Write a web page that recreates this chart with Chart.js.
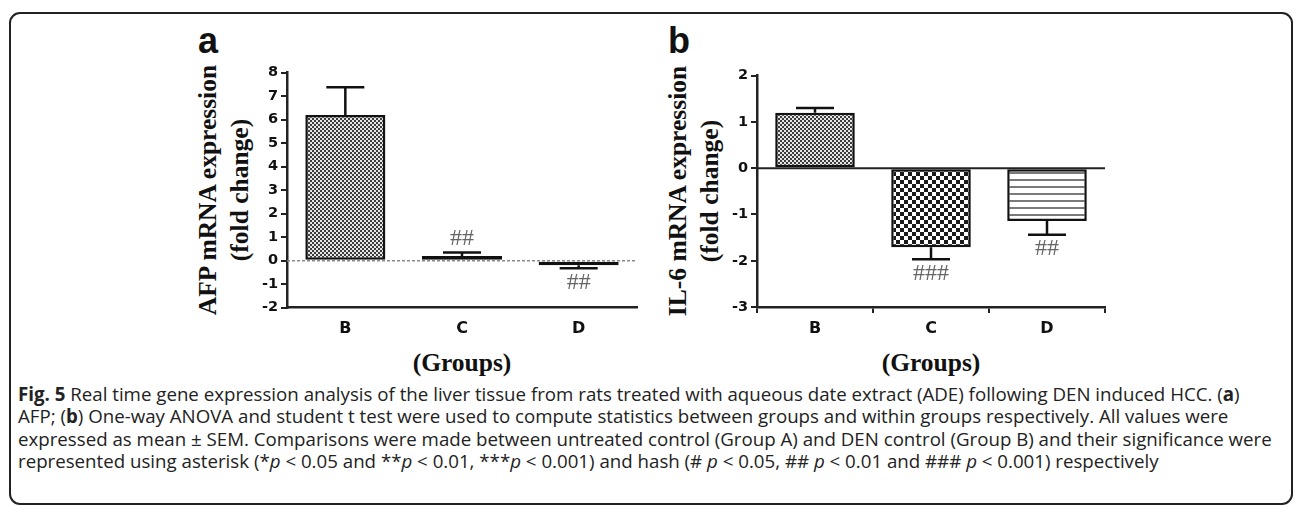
<!DOCTYPE html>
<html>
<head>
<meta charset="utf-8">
<script src="https://cdn.jsdelivr.net/npm/chart.js@4"></script>
<style>
  html, body { margin: 0; padding: 0; background: #fff; }
  body { width: 1295px; height: 507px; position: relative; overflow: hidden; }
  .frame { position: absolute; left: 9px; top: 12px; width: 1284px; height: 493px; box-sizing: border-box;
           border: 2px solid #222; border-radius: 11px; }
  .panel { position: absolute; }
  .tag { position: absolute; font: bold 36px "Liberation Sans", Arial, sans-serif; line-height: 36px; color: #111; }
  .ytitle { position: absolute; transform: translate(-50%, -50%) rotate(-90deg); white-space: nowrap; text-align: center;
            font: bold 25.5px "Liberation Serif", "Times New Roman", serif; line-height: 32px; color: #111; }
  .xtitle { position: absolute; transform: translate(-50%, -50%); white-space: nowrap;
            font: bold 25.5px "Liberation Serif", "Times New Roman", serif; color: #111; }
  .caption { position: absolute; left: 18px; top: 383px; width: 1272px; white-space: nowrap;
             font: 18.7px "Open Sans", sans-serif; line-height: 22.4px; color: #222; }
</style>
</head>
<body>
<div class="frame"></div>

<div class="tag" style="left:198px; top:22.5px">a</div>
<div class="tag" style="left:668px; top:22.5px">b</div>

<div class="ytitle" style="left:224px; top:190px">AFP mRNA expression<br>(fold change)</div>
<div class="ytitle" style="left:694px; top:191px">IL-6 mRNA expression<br>(fold change)</div>

<div class="panel" style="left:230px; top:60px; width:410px; height:288px"><canvas id="afpChart"></canvas></div>
<div class="panel" style="left:700px; top:60px; width:408px; height:288px"><canvas id="il6Chart"></canvas></div>

<div class="xtitle" style="left:462px; top:363px">(Groups)</div>
<div class="xtitle" style="left:931px; top:363px">(Groups)</div>

<div class="caption">
<b>Fig. 5</b> Real time gene expression analysis of the liver tissue from rats treated with aqueous date extract (ADE) following DEN induced HCC. (<b>a</b>)<br>
AFP; (<b>b</b>) One-way ANOVA and student t test were used to compute statistics between groups and within groups respectively. All values were<br>
expressed as mean ± SEM. Comparisons were made between untreated control (Group A) and DEN control (Group B) and their significance were<br>
represented using asterisk (*<i>p</i> &lt; 0.05 and **<i>p</i> &lt; 0.01, ***<i>p</i> &lt; 0.001) and hash (# <i>p</i> &lt; 0.05, ## <i>p</i> &lt; 0.01 and ### <i>p</i> &lt; 0.001) respectively
</div>

<script>
// values (mean fold change and SEM)
const groups = ['B', 'C', 'D'];
const afpMean = [6.2, 0.2, -0.19];
const afpSem = [1.18, 0.15, 0.13];
const afpMarks = ['', '##', '##'];
const il6Mean = [1.2, -1.71, -1.14];
const il6Sem = [0.1, 0.26, 0.3];
const il6Marks = ['', '###', '##'];

function makePattern(kind) {
  const c = document.createElement('canvas');
  const g = c.getContext('2d');
  if (kind === 'fine') {
    c.width = 4; c.height = 4;
    g.fillStyle = '#e6e6e6'; g.fillRect(0, 0, 4, 4);
    g.fillStyle = '#3c3c3c'; g.fillRect(0, 0, 2, 2); g.fillRect(2, 2, 2, 2);
  } else if (kind === 'coarse') {
    c.width = 8; c.height = 8;
    g.fillStyle = '#fff'; g.fillRect(0, 0, 8, 8);
    g.fillStyle = '#1a1a1a'; g.fillRect(0, 0, 4, 4); g.fillRect(4, 4, 4, 4);
  } else {
    c.width = 8; c.height = 7;
    g.fillStyle = '#fff'; g.fillRect(0, 0, 8, 7);
    g.fillStyle = '#7a7a7a'; g.fillRect(0, 0, 8, 2);
  }
  return g.createPattern(c, 'repeat');
}

const errorBars = {
  id: 'errorBars',
  beforeDatasetsDraw(chart, args, opts) {
    const { ctx, chartArea, scales: { y } } = chart;
    const y0 = y.getPixelForValue(0);
    ctx.save();
    ctx.strokeStyle = opts.zeroColor;
    ctx.lineWidth = opts.zeroWidth;
    ctx.setLineDash(opts.zeroDash);
    ctx.beginPath();
    ctx.moveTo(chartArea.left, y0);
    ctx.lineTo(chartArea.right, y0);
    ctx.stroke();
    ctx.restore();
  },
  afterDatasetsDraw(chart, args, opts) {
    const { ctx, scales: { y } } = chart;
    const meta = chart.getDatasetMeta(0);
    const mean = chart.data.datasets[0].data;
    ctx.save();
    ctx.strokeStyle = '#111';
    ctx.lineWidth = 2.5;
    ctx.font = '24px "Liberation Serif", serif';
    ctx.fillStyle = '#666';
    ctx.textAlign = 'center';
    ctx.textBaseline = 'middle';
    meta.data.forEach((bar, i) => {
      const dir = mean[i] >= 0 ? 1 : -1;
      const yBar = y.getPixelForValue(mean[i]);
      const yEnd = y.getPixelForValue(mean[i] + dir * opts.sem[i]);
      ctx.beginPath();
      ctx.moveTo(bar.x, yBar);
      ctx.lineTo(bar.x, yEnd);
      ctx.moveTo(bar.x - 19, yEnd);
      ctx.lineTo(bar.x + 19, yEnd);
      ctx.stroke();
      if (opts.marks[i]) ctx.fillText(opts.marks[i], bar.x, yEnd - dir * 14);
    });
    ctx.restore();
  }
};

function panel(id, mean, sem, marks, fills, yMin, yMax, padTop, xHeight, xTicks, zero) {
  return new Chart(document.getElementById(id), {
    type: 'bar',
    data: {
      labels: groups,
      datasets: [{
        data: mean,
        backgroundColor: fills,
        borderColor: '#111',
        borderWidth: 2.5,
        borderSkipped: false,
        barPercentage: 0.686,
        categoryPercentage: 1,
      }],
    },
    options: {
      responsive: false,
      maintainAspectRatio: false,
      animation: false,
      events: [],
      layout: { padding: { top: padTop, left: 10, right: 3, bottom: 0 } },
      plugins: {
        legend: { display: false },
        tooltip: { enabled: false },
        errorBars: { sem, marks, zeroColor: zero.color, zeroWidth: zero.width, zeroDash: zero.dash },
      },
      scales: {
        x: {
          afterFit: (s) => { s.height = xHeight; },
          border: { color: '#222', width: 2.5 },
          grid: { display: xTicks, drawOnChartArea: false, drawTicks: xTicks, tickLength: 6, color: '#222', lineWidth: 2 },
          ticks: { color: '#111', padding: xTicks ? 6 : 12, font: { family: '"DejaVu Sans", sans-serif', size: 16, weight: 'bold' } },
        },
        y: {
          min: yMin,
          max: yMax,
          afterFit: (s) => { s.width = 47; },
          border: { color: '#222', width: 2.5 },
          grid: { drawOnChartArea: false, drawTicks: true, tickLength: 6, color: '#222', lineWidth: 2 },
          ticks: { stepSize: 1, color: '#111', padding: 3, font: { family: '"DejaVu Sans", sans-serif', size: 14.5, weight: 'bold' } },
        },
      },
    },
    plugins: [errorBars],
  });
}

const afpCanvas = document.getElementById('afpChart');
afpCanvas.width = 410; afpCanvas.height = 288;
const il6Canvas = document.getElementById('il6Chart');
il6Canvas.width = 408; il6Canvas.height = 288;

panel('afpChart', afpMean, afpSem, afpMarks,
  [makePattern('fine'), '#151515', '#b4b4b4'],
  -2, 8, 12.7, 40.3, false, { color: '#8a8a8a', width: 1.5, dash: [3, 2] });

panel('il6Chart', il6Mean, il6Sem, il6Marks,
  [makePattern('fine'), makePattern('coarse'), makePattern('lines')],
  -3, 2, 15.7, 41, true, { color: '#222', width: 2, dash: [] });
</script>
</body>
</html>
